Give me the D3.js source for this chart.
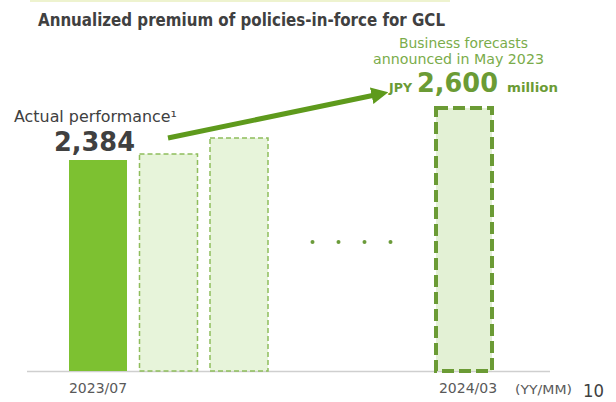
<!DOCTYPE html>
<html>
<head>
<meta charset="utf-8">
<script src="https://cdn.jsdelivr.net/npm/d3@7"></script>
<style>
  body { margin: 0; background: #fff; }
  text { font-family: "DejaVu Sans", Verdana, sans-serif; }
</style>
</head>
<body>
<div id="chart"></div>
<script>
// chart values
var months = ["2023/07", "2023/08", "2023/09", "...", "2024/03"];
var values = [2384, 2408, 2472, null, 2600];
var kinds = ["actual", "plan", "plan", "gap", "target"];
var tickLabels = ["2023/07", "2024/03"];

var width = 616, height = 402;

var svg = d3.select("#chart").append("svg")
    .attr("width", width)
    .attr("height", height);

// squeeze a text to the width it has in the slide
function fit(sel, w) {
    sel.attr("textLength", w).attr("lengthAdjust", "spacingAndGlyphs");
    return sel;
}

// thin header strip
svg.append("rect")
    .attr("x", 30).attr("y", 0)
    .attr("width", 420).attr("height", 2)
    .attr("fill", "#eef3cf");

// title
fit(svg.append("text")
    .attr("x", 38).attr("y", 26)
    .attr("font-size", 17.5)
    .attr("font-weight", "bold")
    .attr("fill", "#404040")
    .text("Annualized premium of policies-in-force for GCL"), 407);

// scales: slot index -> x centre (piecewise, the gap is compressed)
var x = d3.scaleLinear().domain([0, 2, 4]).range([98, 239, 464]);
var y = d3.scaleLinear().domain([1540, 2600]).range([371, 106]);
var barW = 58;

var bars = months.map(function(m, i) {
    return { month: m, value: values[i], kind: kinds[i], i: i };
}).filter(function(d) { return d.value !== null; });

// baseline
svg.append("line")
    .attr("x1", 27).attr("x2", 550)
    .attr("y1", y(1540) + 0.5).attr("y2", y(1540) + 0.5)
    .attr("stroke", "#cfcfcf")
    .attr("stroke-width", 1.5);

svg.selectAll("rect.bar")
    .data(bars)
    .enter()
    .append("rect")
    .attr("class", "bar")
    .attr("x", function(d) { return x(d.i) - barW / 2 + (d.kind === "target" ? 1 : 0); })
    .attr("y", function(d) { return d.kind === "target" ? y(d.value) + 2 : y(d.value); })
    .attr("width", function(d) { return d.kind === "target" ? barW - 2 : barW; })
    .attr("height", function(d) { return y(1540) - y(d.value) - (d.kind === "target" ? 2 : 0); })
    .attr("fill", function(d) {
        if (d.kind === "actual") return "#7dc131";
        else if (d.kind === "plan") return "#e7f4da";
        else return "#e3f1d5";
    })
    .attr("stroke", function(d) {
        if (d.kind === "actual") return "none";
        else if (d.kind === "plan") return "#8fbd5c";
        else return "#6b9b35";
    })
    .attr("stroke-width", function(d) { return d.kind === "target" ? 4 : 1.5; })
    .attr("stroke-dasharray", function(d) { return d.kind === "target" ? "12,5" : "5,3"; });

// dots in the gap
var gapX = x(3);
svg.selectAll("circle.gap")
    .data([-1.5, -0.5, 0.5, 1.5])
    .enter()
    .append("circle")
    .attr("class", "gap")
    .attr("cx", function(d) { return gapX + d * 26; })
    .attr("cy", 242)
    .attr("r", 2)
    .attr("fill", "#6b9b3a");

// tick labels
svg.selectAll("text.tick")
    .data(tickLabels)
    .enter()
    .append("text")
    .attr("class", "tick")
    .attr("x", function(d) { return x(months.indexOf(d)) + (d === "2024/03" ? 4 : 0); })
    .attr("y", 393)
    .attr("text-anchor", "middle")
    .attr("font-size", 14)
    .attr("fill", "#595959")
    .text(function(d) { return d; });

fit(svg.append("text")
    .attr("x", 515).attr("y", 394)
    .attr("font-size", 13)
    .attr("fill", "#595959")
    .text("(YY/MM)"), 57);

fit(svg.append("text")
    .attr("x", 583).attr("y", 397)
    .attr("font-size", 18)
    .attr("fill", "#404040")
    .text("10"), 21);

// actual label
fit(svg.append("text")
    .attr("x", 14).attr("y", 122)
    .attr("font-size", 15)
    .attr("fill", "#404040")
    .text("Actual performance\u00b9"), 163);

fit(svg.append("text")
    .attr("x", 54).attr("y", 151)
    .attr("font-size", 27)
    .attr("font-weight", "bold")
    .attr("fill", "#404040")
    .text(d3.format(",")(values[0])), 81);

// forecast label
var fc = svg.append("g").attr("fill", "#7aac4a").attr("font-size", 14);
fit(fc.append("text").attr("x", 399).attr("y", 48).text("Business forecasts"), 129);
fit(fc.append("text").attr("x", 373).attr("y", 64).text("announced in May 2023"), 171);

var big = svg.append("g")
    .attr("fill", "#6b9b35")
    .attr("font-weight", "bold");
fit(big.append("text").attr("x", 389).attr("y", 92).attr("font-size", 13).text("JPY"), 23);
fit(big.append("text").attr("x", 417).attr("y", 92).attr("font-size", 26).text(d3.format(",")(values[4])), 81);
fit(big.append("text").attr("x", 507).attr("y", 92).attr("font-size", 13).text("million"), 51);

// arrow
svg.append("defs").append("marker")
    .attr("id", "head")
    .attr("viewBox", "0 0 10 10")
    .attr("refX", 2).attr("refY", 5)
    .attr("markerWidth", 3.4).attr("markerHeight", 3.4)
    .attr("orient", "auto")
    .append("path")
    .attr("d", "M0,0 L10,5 L0,10 Z")
    .attr("fill", "#5e9a1c");

svg.append("line")
    .attr("x1", 168).attr("y1", 138)
    .attr("x2", 375).attr("y2", 95)
    .attr("stroke", "#5e9a1c")
    .attr("stroke-width", 5)
    .attr("marker-end", "url(#head)");
</script>
</body>
</html>
